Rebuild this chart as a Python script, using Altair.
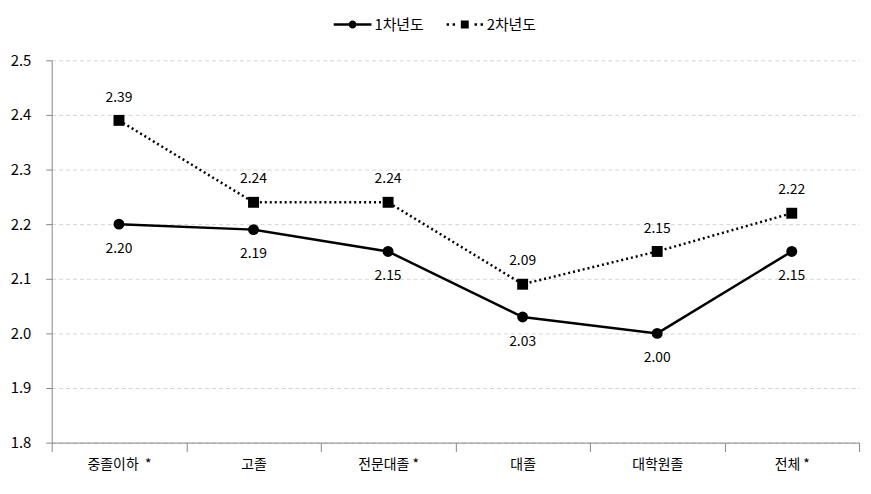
import altair as alt
import pandas as pd

categories = ["중졸이하\u00a0 *", "고졸", "전문대졸 *", "대졸", "대학원졸", "전체 *"]
series_names = ["1차년도", "2차년도"]
year1 = [2.20, 2.19, 2.15, 2.03, 2.00, 2.15]
year2 = [2.39, 2.24, 2.24, 2.09, 2.15, 2.22]
y_ticks = [1.8, 1.9, 2.0, 2.1, 2.2, 2.3, 2.4, 2.5]

rows = []
for i, c in enumerate(categories):
    rows.append({"cat": c, "series": series_names[0], "value": year1[i]})
    rows.append({"cat": c, "series": series_names[1], "value": year2[i]})
df = pd.DataFrame(rows)

FONT = "Noto Sans CJK KR"

x = alt.X(
    "cat:N", sort=categories, bandPosition=0.5,
    scale=alt.Scale(type="band", paddingInner=0, paddingOuter=0),
    axis=alt.Axis(title=None, labelAngle=0, tickBand="extent", grid=False,
                  domainColor="#868686", tickColor="#868686", tickSize=9,
                  labelFontSize=14, labelPadding=6, labelFont=FONT, labelColor="#000"),
)
y = alt.Y(
    "value:Q",
    scale=alt.Scale(domain=[1.8, 2.5], zero=False, nice=False),
    axis=alt.Axis(title=None, values=y_ticks, format=".1f", grid=True,
                  gridDash=[4, 3], gridColor="#d4d4d4", domainColor="#868686",
                  tickColor="#868686", tickSize=6, labelPadding=15, labelFontSize=15,
                  labelFont=FONT, labelColor="#000"),
)

base = alt.Chart(df)
s1 = base.transform_filter(alt.datum.series == series_names[0])
s2 = base.transform_filter(alt.datum.series == series_names[1])

line1 = s1.mark_line(color="black", strokeWidth=2.5).encode(x=x, y=y)
line2 = s2.mark_line(color="black", strokeWidth=2.5, strokeDash=[2, 3]).encode(x=x, y=y)
pt1 = s1.mark_point(shape="circle", filled=True, color="black", size=121, opacity=1).encode(x=x, y=y)
pt2 = s2.mark_point(shape="square", filled=True, color="black", size=121, opacity=1).encode(x=x, y=y)
txt1 = s1.mark_text(dy=25, fontSize=14, font=FONT, color="#000").encode(
    x=x, y=y, text=alt.Text("value:Q", format=".2f"))
txt2 = s2.mark_text(dy=-23, fontSize=14, font=FONT, color="#000").encode(
    x=x, y=y, text=alt.Text("value:Q", format=".2f"))

path1 = ("M-1,-0.07L-0.2,-0.07L-0.2,0.07L-1,0.07Z "
         "M0.2,-0.07L1,-0.07L1,0.07L0.2,0.07Z "
         "M-0.21,0A0.21,0.21,0,1,0,0.21,0A0.21,0.21,0,1,0,-0.21,0Z")
path2 = ("M-0.21,-0.21L0.21,-0.21L0.21,0.21L-0.21,0.21Z "
         "M-0.965,-0.065L-0.835,-0.065L-0.835,0.065L-0.965,0.065Z "
         "M-0.645,-0.065L-0.515,-0.065L-0.515,0.065L-0.645,0.065Z "
         "M0.515,-0.065L0.645,-0.065L0.645,0.065L0.515,0.065Z "
         "M0.835,-0.065L0.965,-0.065L0.965,0.065L0.835,0.065Z")

legend_layer = base.transform_filter("false").mark_point(
    filled=True, color="black", size=1444, opacity=1
).encode(
    shape=alt.Shape(
        "series:N",
        scale=alt.Scale(domain=series_names, range=[path1, path2]),
        legend=alt.Legend(title=None, orient="none", direction="horizontal",
                          legendX=284, legendY=-55, symbolSize=1444,
                          symbolFillColor="black", symbolStrokeWidth=0,
                          labelFontSize=15, labelFont=FONT, labelColor="#000",
                          labelOffset=3, columnPadding=22),
    )
)

chart = alt.layer(line2, line1, pt2, pt1, txt1, txt2, legend_layer).properties(
    width=813, height=385,
    autosize=alt.AutoSizeParams(type="none"),
    padding={"left": 44, "top": 51, "right": 4, "bottom": 40},
).configure_view(stroke=None)

chart.save("out.html", embed_options={"renderer": "svg", "actions": False})
